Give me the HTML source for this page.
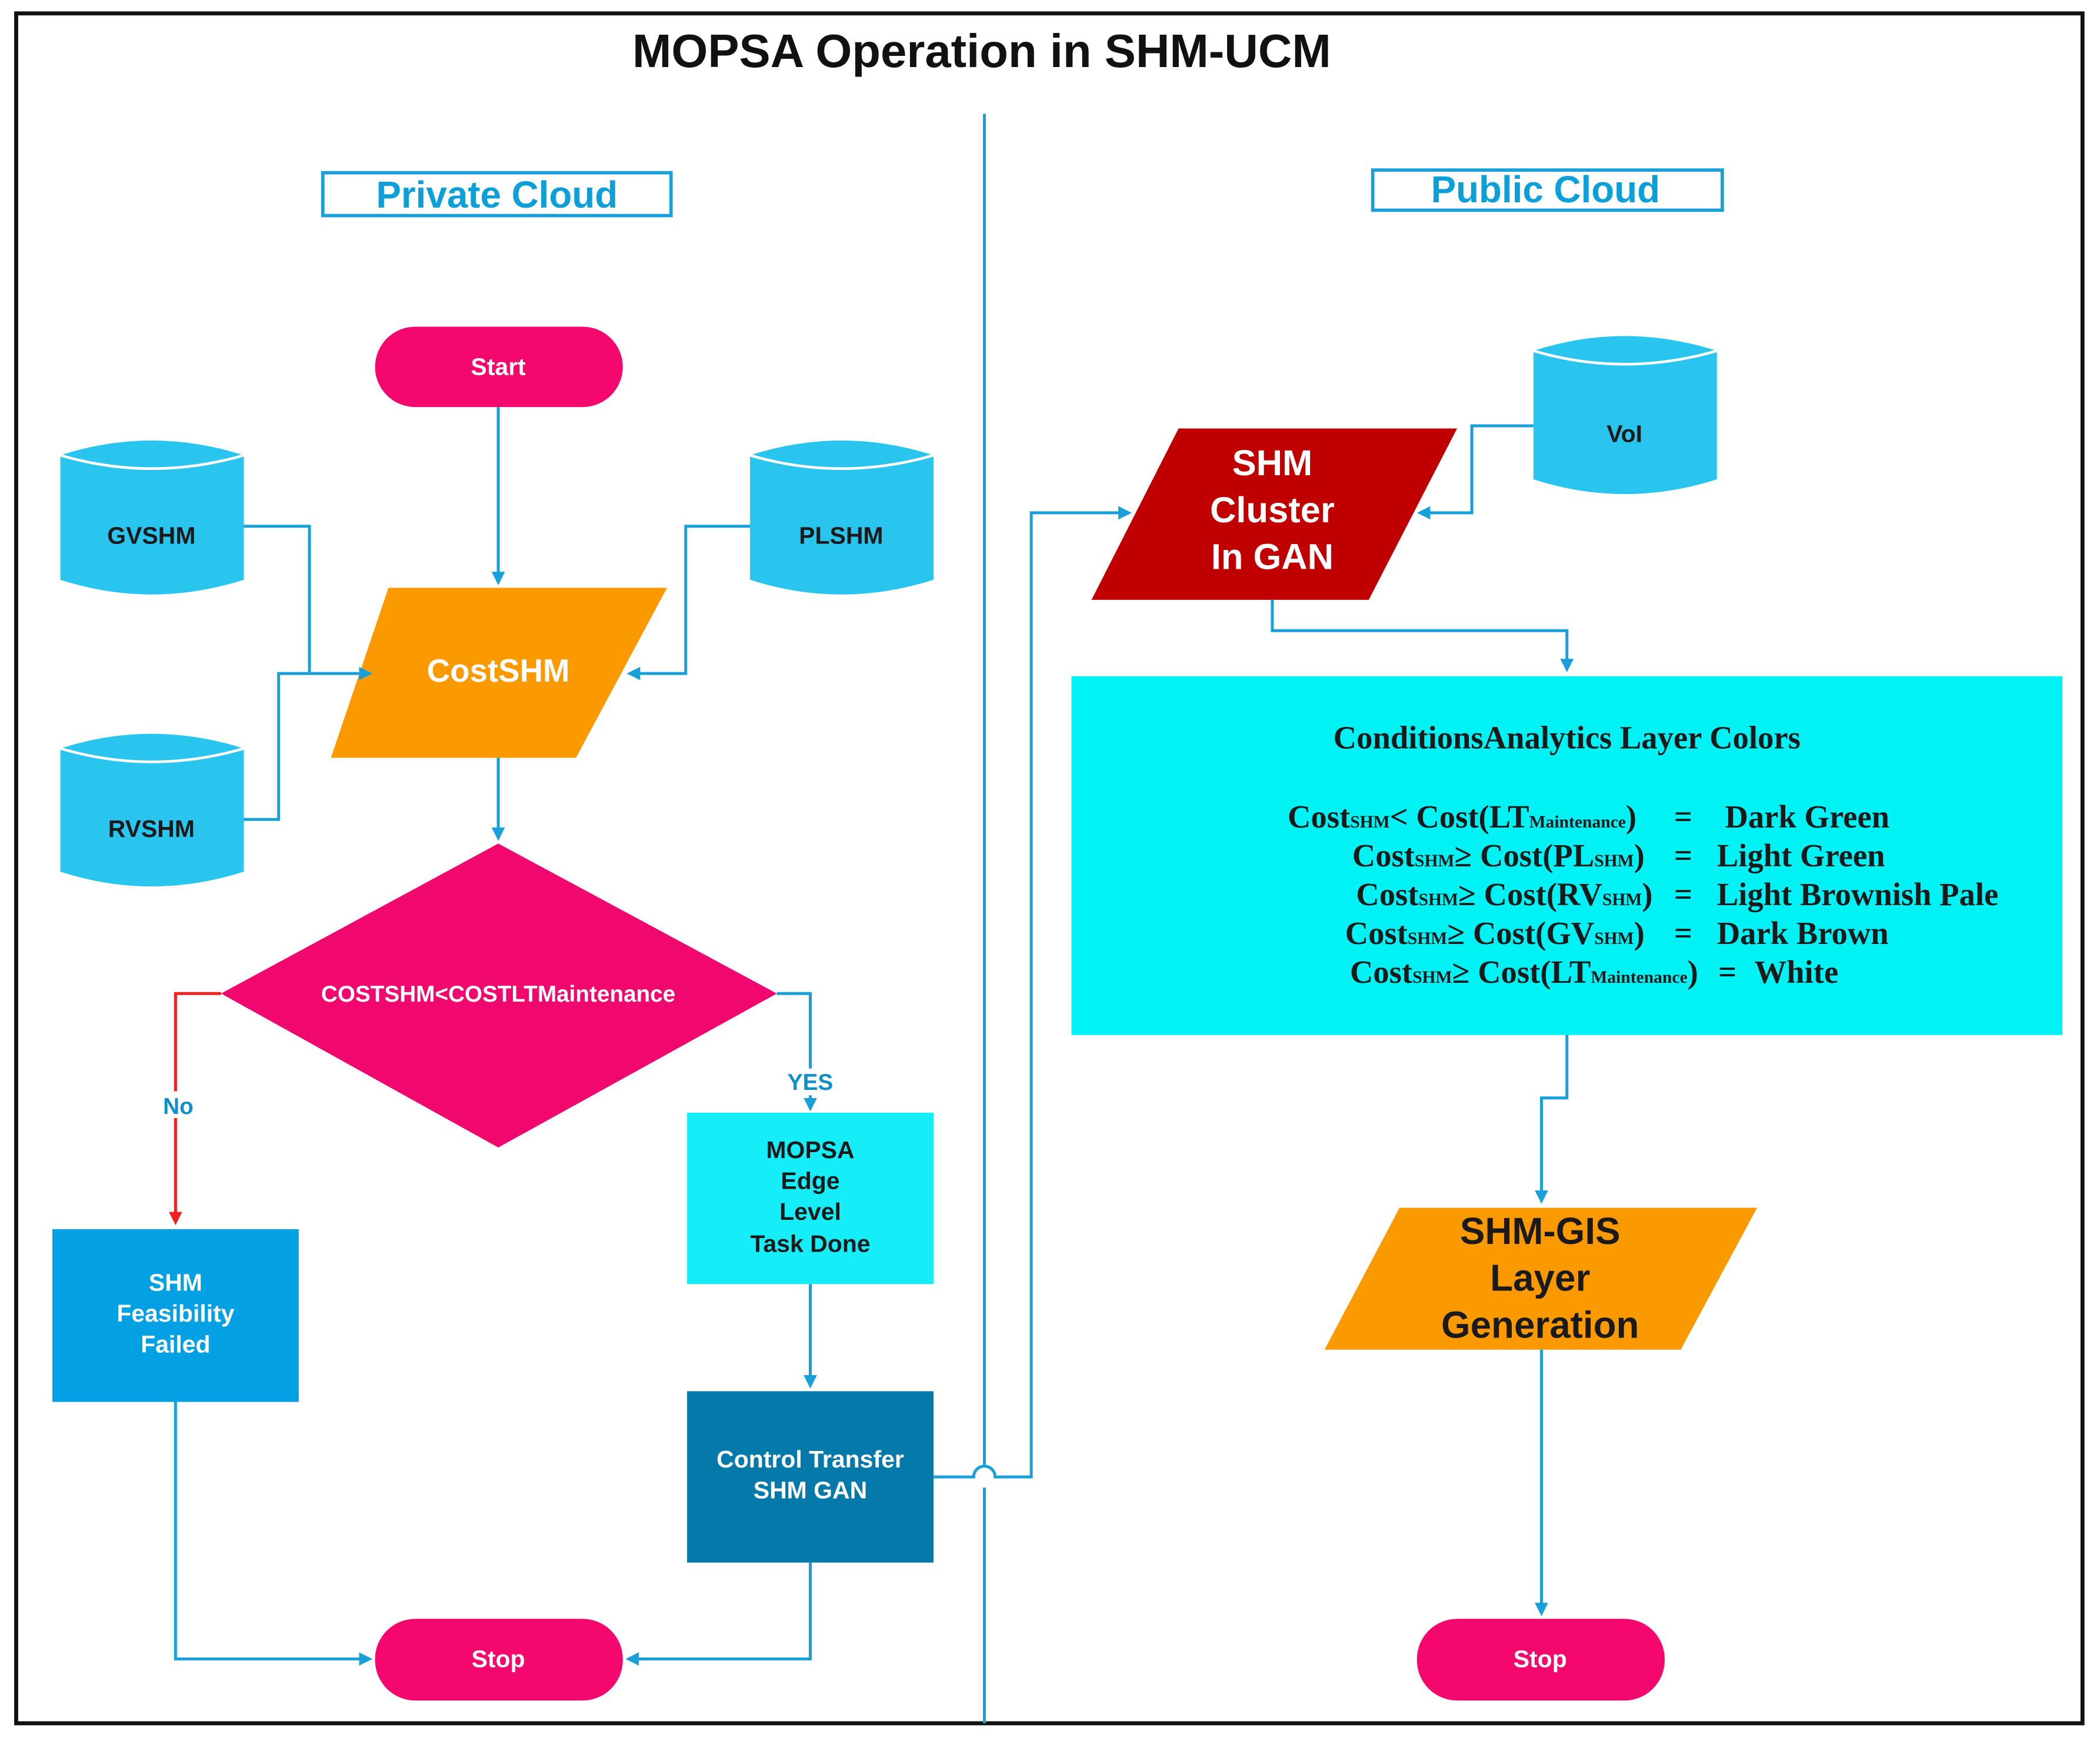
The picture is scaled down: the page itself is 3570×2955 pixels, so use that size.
<!DOCTYPE html>
<html><head><meta charset="utf-8"><style>
html,body{margin:0;padding:0;background:#fff}
svg{display:block}
.s{font-family:"Liberation Sans",sans-serif;font-weight:bold}
.r{font-family:"Liberation Serif",serif;font-weight:bold;font-size:24px;fill:#1a1a1a}
.l{fill:none;stroke:#1aa0d8;stroke-width:2.2}
</style></head><body>
<svg width="3570" height="2955" viewBox="0 0 1568 1298" xmlns="http://www.w3.org/2000/svg">
<defs>
<marker id="a" markerWidth="10" markerHeight="10" refX="8" refY="5" orient="auto" markerUnits="userSpaceOnUse"><path d="M0,0 L10,5 L0,10 z" fill="#1aa0d8"/></marker>
<marker id="ar" markerWidth="10" markerHeight="10" refX="8" refY="5" orient="auto" markerUnits="userSpaceOnUse"><path d="M0,0 L10,5 L0,10 z" fill="#f02020"/></marker>
</defs>
<rect x="0" y="0" width="1568" height="1298" fill="#fff"/>
<rect x="12" y="10" width="1543" height="1277" fill="none" stroke="#111" stroke-width="3"/>
<text x="733" y="50" text-anchor="middle" class="s" font-size="35" fill="#111">MOPSA Operation in SHM-UCM</text>
<line x1="735" y1="85" x2="735" y2="1095" stroke="#1aa0d8" stroke-width="2.2"/>
<line x1="735" y1="1111" x2="735" y2="1287" stroke="#1aa0d8" stroke-width="2.2"/>
<rect x="241" y="129" width="260" height="32" fill="none" stroke="#1aa0d8" stroke-width="2.5"/>
<text x="371" y="155" text-anchor="middle" class="s" font-size="28" fill="#0d9fd8">Private Cloud</text>
<rect x="1025" y="127" width="261" height="30" fill="none" stroke="#1aa0d8" stroke-width="2.5"/>
<text x="1154" y="151" text-anchor="middle" class="s" font-size="28" fill="#0d9fd8">Public Cloud</text>

<!-- start/stop -->
<rect x="280" y="244" width="185" height="60" rx="30" fill="#f5086e"/>
<text x="372" y="280" text-anchor="middle" class="s" font-size="18" fill="#fff">Start</text>
<rect x="280" y="1209" width="185" height="61" rx="30" fill="#f5086e"/>
<text x="372" y="1245" text-anchor="middle" class="s" font-size="18" fill="#fff">Stop</text>
<rect x="1058" y="1209" width="185" height="61" rx="30" fill="#f5086e"/>
<text x="1150" y="1245" text-anchor="middle" class="s" font-size="18" fill="#fff">Stop</text>

<!-- cylinders -->
<g fill="#29c5ef">
<path d="M45,340 Q113,318 182,340 V433 Q113,455 45,433 Z"/>
<path d="M560,340 Q628,318 697,340 V433 Q628,455 560,433 Z"/>
<path d="M45,559 Q113,537 182,559 V651 Q113,673 45,651 Z"/>
<path d="M1145,262 Q1213,240 1282,262 V358 Q1213,380 1145,358 Z"/>
</g>
<g fill="none" stroke="#fff" stroke-width="2">
<path d="M45,340 Q113,360 182,340"/><path d="M560,340 Q628,360 697,340"/>
<path d="M45,559 Q113,579 182,559"/><path d="M1145,262 Q1213,282 1282,262"/>
</g>
<g class="s" font-size="18" fill="#1a1a1a" text-anchor="middle">
<text x="113" y="406">GVSHM</text><text x="628" y="406">PLSHM</text>
<text x="113" y="625">RVSHM</text><text x="1213" y="330">VoI</text>
</g>

<!-- CostSHM -->
<polygon points="290,439 498,439 430,566 247,566" fill="#fa9a00"/>
<text x="372" y="509" text-anchor="middle" class="s" font-size="24" fill="#fff">CostSHM</text>

<!-- diamond -->
<polygon points="372,630 580,742 372,857 165,742" fill="#f0086e"/>
<text x="372" y="748" text-anchor="middle" class="s" font-size="17" fill="#fff">COSTSHM&lt;COSTLTMaintenance</text>

<!-- boxes -->
<rect x="513" y="831" width="184" height="128" fill="#15eef8"/>
<g class="s" font-size="18" fill="#1a1a1a" text-anchor="middle">
<text x="605" y="865">MOPSA</text><text x="605" y="888">Edge</text><text x="605" y="911">Level</text><text x="605" y="935">Task Done</text>
</g>
<rect x="39" y="918" width="184" height="129" fill="#04a0e4"/>
<g class="s" font-size="18" fill="#fff" text-anchor="middle">
<text x="131" y="964">SHM</text><text x="131" y="987">Feasibility</text><text x="131" y="1010">Failed</text>
</g>
<rect x="513" y="1039" width="184" height="128" fill="#0679ab"/>
<g class="s" font-size="18" fill="#fff" text-anchor="middle">
<text x="605" y="1096">Control Transfer</text><text x="605" y="1119">SHM GAN</text>
</g>

<!-- SHM cluster -->
<polygon points="880,320 1088,320 1022,448 815,448" fill="#c00000"/>
<g class="s" font-size="27" fill="#fff" text-anchor="middle">
<text x="950" y="355">SHM</text><text x="950" y="390">Cluster</text><text x="950" y="425">In GAN</text>
</g>

<!-- conditions -->
<rect x="800" y="505" width="740" height="268" fill="#00f2f5"/>
<text x="1170" y="559" text-anchor="middle" class="r">ConditionsAnalytics Layer Colors</text>
<g class="r">
<text x="1222" y="618" text-anchor="end">Cost<tspan font-size="13">SHM</tspan>&lt; Cost(LT<tspan font-size="13">Maintenance</tspan>)</text>
<text x="1228" y="647" text-anchor="end">Cost<tspan font-size="13">SHM</tspan>≥ Cost(PL<tspan font-size="13">SHM</tspan>)</text>
<text x="1234" y="676" text-anchor="end">Cost<tspan font-size="13">SHM</tspan>≥ Cost(RV<tspan font-size="13">SHM</tspan>)</text>
<text x="1228" y="705" text-anchor="end">Cost<tspan font-size="13">SHM</tspan>≥ Cost(GV<tspan font-size="13">SHM</tspan>)</text>
<text x="1268" y="734" text-anchor="end">Cost<tspan font-size="13">SHM</tspan>≥ Cost(LT<tspan font-size="13">Maintenance</tspan>)</text>
<text x="1250" y="618">=</text><text x="1250" y="647">=</text><text x="1250" y="676">=</text><text x="1250" y="705">=</text><text x="1283" y="734">=</text>
<text x="1288" y="618">Dark Green</text>
<text x="1282" y="647">Light Green</text>
<text x="1282" y="676">Light Brownish Pale</text>
<text x="1282" y="705">Dark Brown</text>
<text x="1310" y="734">White</text>
</g>

<!-- SHM-GIS -->
<polygon points="1045,902 1312,902 1255,1008 989,1008" fill="#fa9a00"/>
<g class="s" font-size="28" fill="#1a1a1a" text-anchor="middle">
<text x="1150" y="929">SHM-GIS</text><text x="1150" y="964">Layer</text><text x="1150" y="999">Generation</text>
</g>

<!-- connectors -->
<path class="l" d="M372,304 V435" marker-end="url(#a)"/>
<path class="l" d="M182,393 H231 V503 H276" marker-end="url(#a)"/>
<path class="l" d="M182,612 H208 V503 H231"/>
<path class="l" d="M560,393 H512 V503 H470" marker-end="url(#a)"/>
<path class="l" d="M372,566 V626" marker-end="url(#a)"/>
<path d="M165,742 H131 V913" fill="none" stroke="#f02020" stroke-width="2.2" marker-end="url(#ar)"/>
<path class="l" d="M580,742 H605 V828" marker-end="url(#a)"/>
<path class="l" d="M605,959 V1035" marker-end="url(#a)"/>
<path class="l" d="M131,1047 V1239 H276" marker-end="url(#a)"/>
<path class="l" d="M605,1167 V1239 H469" marker-end="url(#a)"/>
<path class="l" d="M697,1103 H727 A8,8 0 0 1 743,1103 H770 V383 H843" marker-end="url(#a)"/>
<path class="l" d="M1145,318 H1099 V383 H1060" marker-end="url(#a)"/>
<path class="l" d="M950,448 V471 H1170 V500" marker-end="url(#a)"/>
<path class="l" d="M1170,773 V820 H1151 V897" marker-end="url(#a)"/>
<path class="l" d="M1151,1008 V1205" marker-end="url(#a)"/>

<rect x="115" y="815" width="36" height="20" fill="#fff"/>
<text x="133" y="832" text-anchor="middle" class="s" font-size="17" fill="#0d8fc8">No</text>
<rect x="585" y="798" width="40" height="20" fill="#fff"/>
<text x="605" y="814" text-anchor="middle" class="s" font-size="17" fill="#0d8fc8">YES</text>
</svg>
</body></html>
